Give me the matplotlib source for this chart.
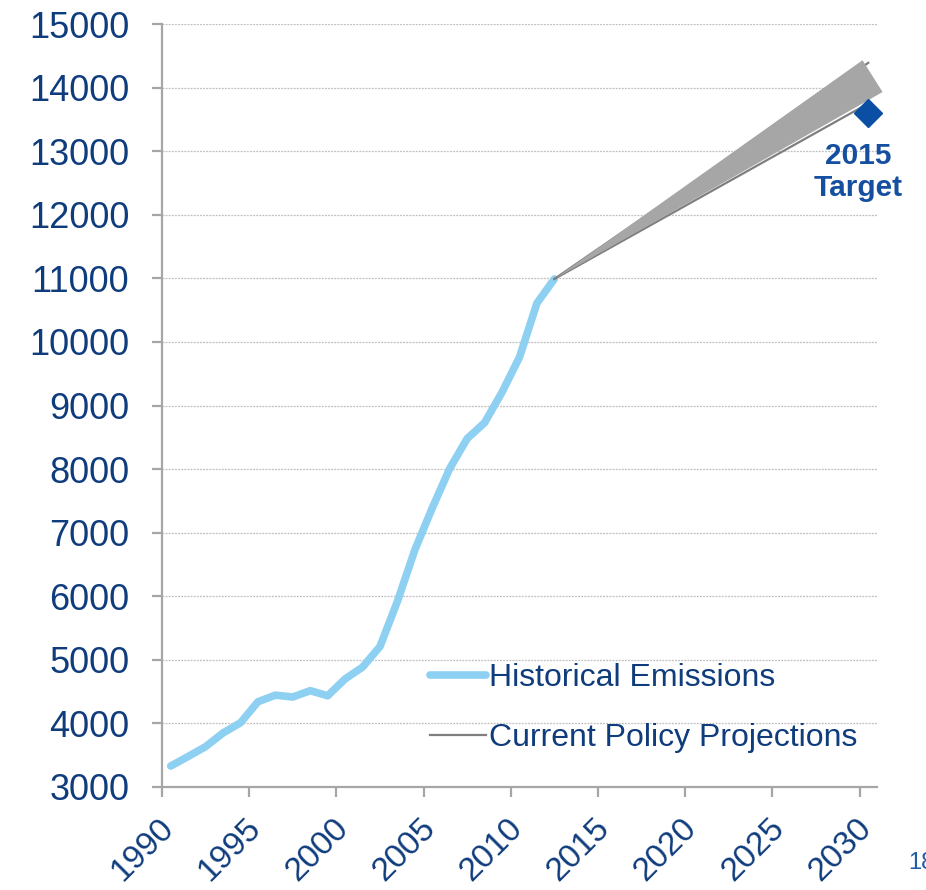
import matplotlib
matplotlib.use('Agg')
import matplotlib.pyplot as plt
from matplotlib.transforms import ScaledTranslation

plt.rcParams['font.family'] = ['Liberation Sans', 'DejaVu Sans']

# historical emissions
hist_years = list(range(1990, 2013))
hist_values = [3330, 3480, 3635, 3850, 4010, 4340, 4445, 4415, 4515, 4435,
               4700, 4885, 5210, 5920, 6730, 7390, 8010, 8480, 8730, 9210,
               9760, 10610, 10990]

# current policy projections (two bounds) and the shaded band
proj_years = [2012, 2030]
proj_high = [10990, 14390]
proj_low = [10990, 13750]
band_high = [10990, 14430]
band_low = [10990, 13930]

target_year = 2030
target_value = 13600

xticks = list(range(1990, 2031, 5))
yticks = list(range(3000, 15001, 1000))

navy = '#0F3C7C'
grey_axis = '#A6A6A6'

fig = plt.figure(figsize=(9.26, 8.9), dpi=100)
ax = fig.add_axes([162 / 926, 1 - 787 / 890, (877 - 162) / 926, (787 - 24) / 890])

# categories sit in the middle of each year slot
off = 0.5
hx = [y + off for y in hist_years]
px = [y + off for y in proj_years]

ax.plot(hx, hist_values, color='#8ED0F2', lw=5.5, solid_capstyle='round',
        solid_joinstyle='round', label='Historical Emissions', zorder=3)
ax.plot(px, proj_high, color='#7F7F7F', lw=1.6, zorder=4)
ax.plot(px, proj_low, color='#7F7F7F', lw=1.6, zorder=4,
        label='Current Policy Projections')

# grey uncertainty wedge (right edge is slanted in the original)
ax.fill([px[0], px[1] - 0.33, px[1] + 0.82],
        [band_low[0], band_high[1], band_low[1]],
        color='#A6A6A6', lw=0, zorder=5, clip_on=False)

ax.plot([target_year + off], [target_value], marker='D', ms=14.5,
        color='#0A4FA3', ls='none', zorder=6, clip_on=False)
ax.text(target_year - 0.1, 12670, '2015\nTarget', ha='center', va='center',
        fontsize=21.5, fontweight='bold', color='#1550A0', linespacing=1.15)

ax.set_xlim(1990, 2031)
ax.set_ylim(3000, 15000)
ax.set_xticks(xticks)
ax.set_xticklabels([str(x) for x in xticks], rotation=45,
                   rotation_mode='anchor', ha='right', va='center')
ax.set_yticks(yticks)

ax.grid(axis='y', color='#BFBFBF', ls=(0, (1.5, 1)), lw=0.9)
ax.set_axisbelow(True)

for s in ['top', 'right']:
    ax.spines[s].set_visible(False)
for s in ['left', 'bottom']:
    ax.spines[s].set_color(grey_axis)
    ax.spines[s].set_linewidth(1.6)

ax.tick_params(axis='both', direction='out', length=7.5, width=1.6,
               color=grey_axis, labelcolor=navy)
ax.tick_params(axis='y', labelsize=26, pad=16)
ax.tick_params(axis='x', labelsize=24, pad=19)

# nudge rotated year labels to the right like the original
shift = ScaledTranslation(7 / 100, 0, fig.dpi_scale_trans)
for lab in ax.get_xticklabels():
    lab.set_transform(lab.get_transform() + shift)

leg = ax.legend(loc='center left', bbox_to_anchor=(430 / 926, 1 - 708 / 890),
                bbox_transform=fig.transFigure, frameon=False, fontsize=23,
                handlelength=1.75, handletextpad=0.1, labelspacing=0.95,
                borderpad=0, borderaxespad=0)
for t in leg.get_texts():
    t.set_color(navy)

fig.text(908 / 926, 1 - 863 / 890, '18', fontsize=17, color='#1F5DAA',
         ha='left', va='center')

plt.savefig('out.png', dpi=100)
plt.close()
